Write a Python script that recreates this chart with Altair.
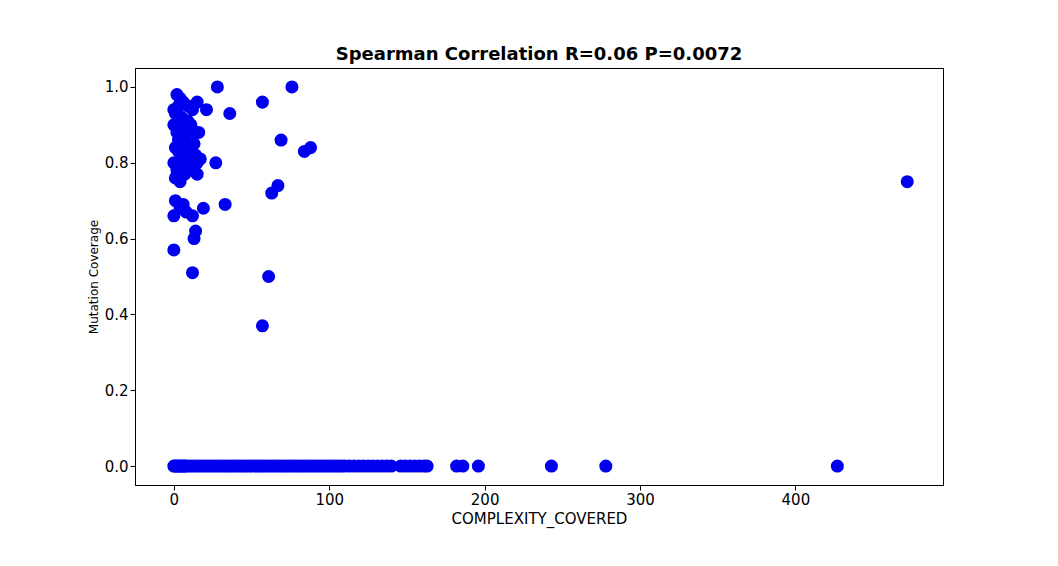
import pandas as pd
import altair as alt

# points with nonzero mutation coverage
hi_x = [28, 76, 57, 36, 21, 69, 27, 84, 88, 33, 63, 67, 19, 61, 57, 12, 0, 14, 13, 472,
        2, 4, 6, 9, 12, 15, 1, 3, 5, 8, 10, 14, 0, 2, 4, 7, 11, 16, 1, 3, 6, 9, 13, 17,
        0, 2, 5, 8, 12, 15, 1, 4, 7, 10, 14, 0, 3, 6, 9, 2, 5, 11, 1, 4, 8, 0, 6, 12,
        3, 7, 15, 2, 9]
hi_y = [1.0, 1.0, 0.96, 0.93, 0.94, 0.86, 0.80, 0.83, 0.84, 0.69, 0.72, 0.74, 0.68, 0.50, 0.37, 0.51, 0.57, 0.62, 0.60, 0.75,
        0.98, 0.97, 0.96, 0.95, 0.94, 0.96, 0.93, 0.92, 0.91, 0.90, 0.89, 0.88, 0.90, 0.88, 0.87, 0.86, 0.85, 0.88, 0.84, 0.83, 0.82, 0.84, 0.85, 0.81,
        0.80, 0.79, 0.78, 0.80, 0.81, 0.77, 0.76, 0.75, 0.77, 0.79, 0.82, 0.94, 0.86, 0.83, 0.81, 0.78, 0.92, 0.90, 0.70, 0.68, 0.67, 0.66, 0.69, 0.66,
        0.95, 0.87, 0.80, 0.76, 0.91]

# points with zero mutation coverage
zero_x = [0, 1, 2, 3, 4, 5, 6, 7, 8, 10, 12, 14, 16, 18, 20, 22, 24, 26, 28, 30, 32, 34, 36, 38,
          40, 42, 44, 46, 48, 50, 52, 54, 56, 58, 60, 62, 64, 66, 68, 70, 72, 74, 76, 78, 80, 82,
          84, 86, 88, 90, 92, 94, 96, 98, 100, 102, 104, 106, 108, 110, 113, 116, 119, 122, 125,
          128, 131, 134, 137, 140, 146, 149, 152, 155, 158, 161, 163,
          182, 186, 196, 243, 278, 427]

df = pd.DataFrame({"x": hi_x + zero_x, "y": hi_y + [0.0] * len(zero_x)})

chart = alt.Chart(df).mark_circle(size=170, color="#0000ee", opacity=1).encode(
    x=alt.X("x:Q", title="COMPLEXITY_COVERED", scale=alt.Scale(domain=[-25, 495], nice=False),
            axis=alt.Axis(values=[0, 100, 200, 300, 400], grid=False)),
    y=alt.Y("y:Q", title="Mutation Coverage", scale=alt.Scale(domain=[-0.05, 1.05], nice=False),
            axis=alt.Axis(values=[0, 0.2, 0.4, 0.6, 0.8, 1.0], format=".1f", grid=False,
                          titleFontSize=12, titleFontWeight="normal")),
).properties(
    width=808, height=417,
    title=alt.TitleParams("Spearman Correlation R=0.06 P=0.0072", fontSize=18, fontWeight="bold",
                          font="DejaVu Sans"),
).configure_view(stroke="black").configure_axis(
    domainColor="black", tickColor="black", labelFontSize=15, titleFontSize=15,
    labelFont="DejaVu Sans", titleFont="DejaVu Sans", labelColor="black", titleColor="black",
    titleFontWeight="normal",
).properties(padding={"left": 79, "top": 38, "right": 10, "bottom": 10})

chart.save("out.html", embed_options={"renderer": "svg", "actions": False})
